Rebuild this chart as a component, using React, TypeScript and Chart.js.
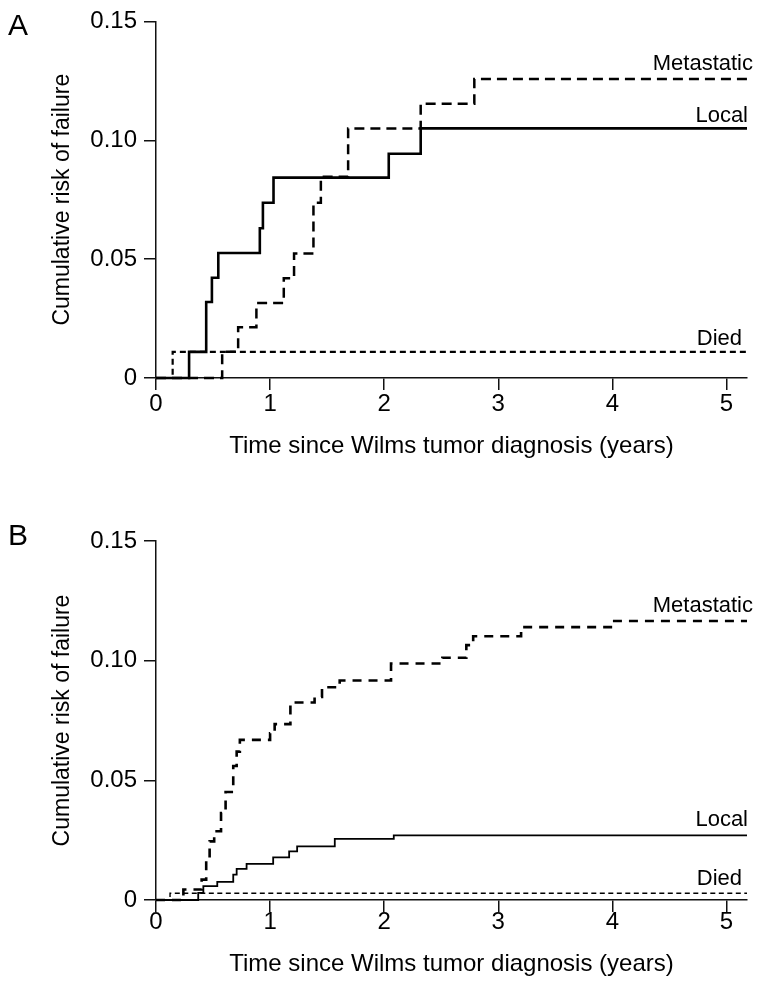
import React, { useEffect, useRef } from 'react';
import Chart from 'chart.js/auto';

// ---------- data ----------
const X_TICKS = [0, 1, 2, 3, 4, 5];
const X_TICK_LABELS = ['0', '1', '2', '3', '4', '5'];
const Y_TICKS = [0, 0.05, 0.1, 0.15];
const Y_TICK_LABELS = ['0', '0.05', '0.10', '0.15'];
const X_MAX = 5.18;
const Y_MAX = 0.15;

const SERIES_NAMES = ['Metastatic', 'Local', 'Died'];
const X_TITLE = 'Time since Wilms tumor diagnosis (years)';
const Y_TITLE = 'Cumulative risk of failure';

// Panel A (event times in years, cumulative risk after each step)
const A_MET_T = [0.58, 0.72, 0.88, 1.12, 1.21, 1.38, 1.445, 1.684, 2.32, 2.79];
const A_MET_V = [0.011, 0.0214, 0.0315, 0.042, 0.0524, 0.0737, 0.0847, 0.105, 0.1154, 0.1258];
const A_LOCAL_T = [0.29, 0.44, 0.49, 0.546, 0.91, 0.937, 1.03, 2.04, 2.32];
const A_LOCAL_V = [0.011, 0.032, 0.0422, 0.0526, 0.063, 0.0737, 0.0843, 0.0943, 0.105];
const A_DIED_T = [0.146];
const A_DIED_V = [0.011];

// Panel B
const B_MET_T = [0.24, 0.4, 0.44, 0.47, 0.51, 0.57, 0.61, 0.677, 0.707, 0.735, 1.0, 1.04, 1.178, 1.39, 1.455, 1.61, 2.06, 2.51, 2.72, 2.78, 3.2, 4.0];
const B_MET_V = [0.0044, 0.0085, 0.0175, 0.0245, 0.0287, 0.0363, 0.0451, 0.056, 0.062, 0.0669, 0.0697, 0.0735, 0.0825, 0.0848, 0.0889, 0.0917, 0.0988, 0.1012, 0.1065, 0.1102, 0.114, 0.1166];
const B_LOCAL_T = [0.37, 0.415, 0.537, 0.677, 0.707, 0.794, 1.027, 1.167, 1.237, 1.567, 2.084];
const B_LOCAL_V = [0.003, 0.0058, 0.0076, 0.0106, 0.013, 0.0151, 0.0178, 0.0203, 0.0224, 0.0255, 0.027];
const B_DIED_T = [0.123];
const B_DIED_V = [0.0028];

// ---------- styles ----------
const FONT = "'Liberation Sans', Arial, Helvetica, sans-serif";
const W = 762;

type Style = { width: number; dash: number[]; labelDx: number; labelDy: number };

const A_STYLES: Style[] = [
  { width: 2.5, dash: [10, 6], labelDx: 6, labelDy: 9 },
  { width: 2.6, dash: [], labelDx: 1, labelDy: 6 },
  { width: 2.2, dash: [6, 4], labelDx: -5, labelDy: 7 },
];
const B_STYLES: Style[] = [
  { width: 2.6, dash: [9, 7], labelDx: 6, labelDy: 9 },
  { width: 1.8, dash: [], labelDx: 1, labelDy: 9 },
  { width: 1.4, dash: [5, 3.5], labelDx: -5, labelDy: 8 },
];

function buildSteps(times: number[], values: number[], end: number) {
  const pts: { x: number; y: number }[] = [{ x: 0, y: 0 }];
  let prev = 0;
  for (let i = 0; i < times.length; i++) {
    pts.push({ x: times[i], y: prev });
    pts.push({ x: times[i], y: values[i] });
    prev = values[i];
  }
  pts.push({ x: end, y: prev });
  return pts;
}

type PanelProps = {
  letter: string;
  series: { t: number[]; v: number[] }[];
  styles: Style[];
  top: number;
  height: number;
  areaTop: number;
  areaBottom: number;
  letterY: number;
  tickPad: number;
  titleShift: number;
};

function Panel(p: PanelProps) {
  const ref = useRef<HTMLCanvasElement | null>(null);
  useEffect(() => {
    if (!ref.current) return;
    const xScaleH = 84;
    const labelPlugin = {
      id: 'labels' + p.letter,
      afterDatasetsDraw(chart: any) {
        const ctx = chart.ctx;
        const ys = chart.scales.y;
        const area = chart.chartArea;
        ctx.save();
        ctx.fillStyle = '#000';
        ctx.textBaseline = 'alphabetic';
        ctx.textAlign = 'right';
        ctx.font = `22px ${FONT}`;
        p.series.forEach((s, i) => {
          const last = s.v[s.v.length - 1];
          const y = ys.getPixelForValue(last) - p.styles[i].labelDy;
          ctx.fillText(SERIES_NAMES[i], area.right + p.styles[i].labelDx, y);
        });
        ctx.textAlign = 'left';
        ctx.font = `30px ${FONT}`;
        ctx.fillText(p.letter, 8, p.letterY);
        ctx.restore();
      },
    };
    const chart = new Chart(ref.current, {
      type: 'line',
      data: {
        datasets: p.series.map((s, i) => ({
          label: SERIES_NAMES[i],
          data: buildSteps(s.t, s.v, X_MAX),
          borderColor: '#000',
          backgroundColor: '#000',
          borderWidth: p.styles[i].width,
          borderDash: p.styles[i].dash,
          borderCapStyle: 'butt',
          borderJoinStyle: 'miter',
          pointRadius: 0,
          fill: false,
          tension: 0,
          clip: false,
        })),
      },
      options: {
        animation: false,
        responsive: false,
        maintainAspectRatio: false,
        events: [],
        layout: {
          padding: {
            left: 0,
            right: W - 747,
            top: p.areaTop,
            bottom: p.height - p.areaBottom - xScaleH,
          },
        },
        plugins: {
          legend: { display: false },
          tooltip: { enabled: false },
        },
        scales: {
          x: {
            type: 'linear',
            min: 0,
            max: X_MAX,
            afterBuildTicks: (s: any) => {
              s.ticks = X_TICKS.map((v) => ({ value: v }));
            },
            afterFit: (s: any) => {
              s.height = xScaleH;
            },
            ticks: {
              callback: (v: any) => X_TICK_LABELS[X_TICKS.indexOf(Number(v))],
              font: { family: FONT, size: 24 },
              color: '#000',
              padding: p.tickPad,
              maxRotation: 0,
              autoSkip: false,
            },
            grid: {
              drawOnChartArea: false,
              drawTicks: true,
              tickLength: 12,
              color: '#111',
              lineWidth: 1.5,
            },
            border: { display: true, color: '#111', width: 1.5 },
            title: {
              display: true,
              text: X_TITLE,
              font: { family: FONT, size: 24 },
              color: '#000',
              padding: { top: 0, bottom: 1 + p.titleShift },
            },
          },
          y: {
            type: 'linear',
            min: 0,
            max: Y_MAX,
            afterBuildTicks: (s: any) => {
              s.ticks = Y_TICKS.map((v) => ({ value: v }));
            },
            afterFit: (s: any) => {
              s.width = 156;
            },
            ticks: {
              callback: (v: any) => {
                const i = Y_TICKS.findIndex((t) => Math.abs(t - Number(v)) < 1e-9);
                return Y_TICK_LABELS[i];
              },
              font: { family: FONT, size: 24 },
              color: '#000',
              padding: 7,
              autoSkip: false,
            },
            grid: {
              drawOnChartArea: false,
              drawTicks: true,
              tickLength: 12,
              color: '#111',
              lineWidth: 1.5,
            },
            border: { display: true, color: '#111', width: 1.5 },
            title: {
              display: true,
              text: Y_TITLE,
              font: { family: FONT, size: 23 },
              color: '#000',
              padding: { top: 49, bottom: 0 },
            },
          },
        },
      },
      plugins: [labelPlugin],
    } as any);
    return () => chart.destroy();
  }, []);
  return (
    <canvas
      ref={ref}
      width={W}
      height={p.height}
      style={{ position: 'absolute', left: 0, top: p.top, width: W, height: p.height }}
    />
  );
}

export default function App() {
  return (
    <div style={{ position: 'absolute', left: 0, top: 0, width: W, height: 989, background: '#fff' }}>
      <Panel
        letter="A"
        series={[
          { t: A_MET_T, v: A_MET_V },
          { t: A_LOCAL_T, v: A_LOCAL_V },
          { t: A_DIED_T, v: A_DIED_V },
        ]}
        styles={A_STYLES}
        top={0}
        height={494}
        areaTop={19}
        areaBottom={378}
        letterY={35}
        tickPad={0}
        titleShift={0}
      />
      <Panel
        letter="B"
        series={[
          { t: B_MET_T, v: B_MET_V },
          { t: B_LOCAL_T, v: B_LOCAL_V },
          { t: B_DIED_T, v: B_DIED_V },
        ]}
        styles={B_STYLES}
        top={494}
        height={495}
        areaTop={47}
        areaBottom={406}
        letterY={51}
        tickPad={-4}
        titleShift={4}
      />
    </div>
  );
}
